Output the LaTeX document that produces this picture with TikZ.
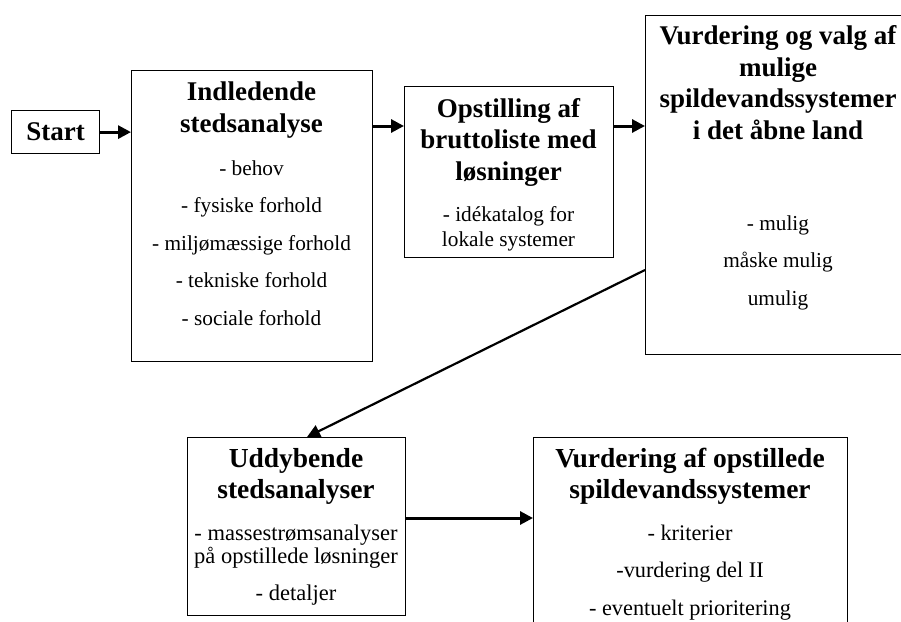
\documentclass[tikz,border=0pt]{standalone}
\usepackage{fontspec}
\setmainfont{Liberation Serif}
\usetikzlibrary{arrows.meta}

\begin{document}
\begin{tikzpicture}[x=1pt, y=-1pt]
    % Styles
    \tikzstyle{box} = [rectangle, draw=black, line width=1.2pt, inner sep=0pt, anchor=north west]
    \tikzstyle{title} = [anchor=base, align=center, inner sep=0pt, font=\bfseries\fontsize{27}{31.5}\selectfont]
    \tikzstyle{items} = [anchor=base, align=center, inner sep=0pt, font=\fontsize{21.3}{37.5}\selectfont]
    \tikzstyle{arrow} = [-{Triangle[length=13pt, width=13pt]}, line width=3pt]

    \useasboundingbox (0,0) rectangle (901,621);
    \clip (0,0) rectangle (901,621);

    % Boxes
    \node[box, minimum width=88pt, minimum height=43pt] (start) at (11,110) {\bfseries\fontsize{27}{31.5}\selectfont Start};
    \node[box, minimum width=241pt, minimum height=291pt] (indl) at (131,70) {};
    \node[box, minimum width=209pt, minimum height=171pt] (opst) at (404,86) {};
    \node[box, minimum width=266pt, minimum height=339pt] (vurd) at (645,15) {};
    \node[box, minimum width=218pt, minimum height=178pt] (udd) at (187,437) {};
    \node[box, minimum width=314pt, minimum height=230pt] (vurdto) at (533,437) {};

    % Texts (anchored at the baseline of the last line)
    \node[title] (indltitle) at (251.5,132) {Indledende\\stedsanalyse};
    \node[items] (indlitems) at (251.5,325) {- behov\\- fysiske forhold\\- miljømæssige forhold\\- tekniske forhold\\- sociale forhold};
    \node[title] (opsttitle) at (508.5,180) {Opstilling af\\bruttoliste med\\løsninger};
    \node[items, font=\fontsize{21.3}{25}\selectfont] (opstitems) at (508.5,246) {- idékatalog for\\lokale systemer};
    \node[title] (vurdtitle) at (778,139) {Vurdering og valg af\\mulige\\spildevandssystemer\\i det åbne land};
    \node[items] (vurditems) at (778,305) {- mulig\\måske mulig\\umulig};
    \node[title, font=\bfseries\fontsize{27.5}{30.5}\selectfont] (uddtitle) at (296,498) {Uddybende\\stedsanalyser};
    \node[items, font=\fontsize{22.5}{21}\selectfont] (udditems) at (296,600) {- massestrømsanalyser\\på opstillede løsninger\\[16pt]- detaljer};
    \node[title, font=\bfseries\fontsize{27.5}{30.5}\selectfont] (vurdtotitle) at (690,498) {Vurdering af opstillede\\spildevandssystemer};
    \node[items, font=\fontsize{22.3}{37.5}\selectfont] (vurdtoitems) at (690,615) {- kriterier\\-vurdering del II\\- eventuelt prioritering};

    % Arrows
    \draw[arrow] (start.east) -- (start.east -| indl.west);
    \draw[arrow] ([yshift=-56pt]indl.north east) -- ([yshift=-56pt]indl.north east -| opst.west);
    \draw[arrow] ([yshift=-40pt]opst.north east) -- ([yshift=-40pt]opst.north east -| vurd.west);
    \draw[arrow, line width=2.2pt] ([yshift=-255pt]vurd.north west) -- ([xshift=120pt]udd.north west);
    \draw[arrow] ([yshift=-81pt]udd.north east) -- ([yshift=-81pt]udd.north east -| vurdto.west);
\end{tikzpicture}
\end{document}
